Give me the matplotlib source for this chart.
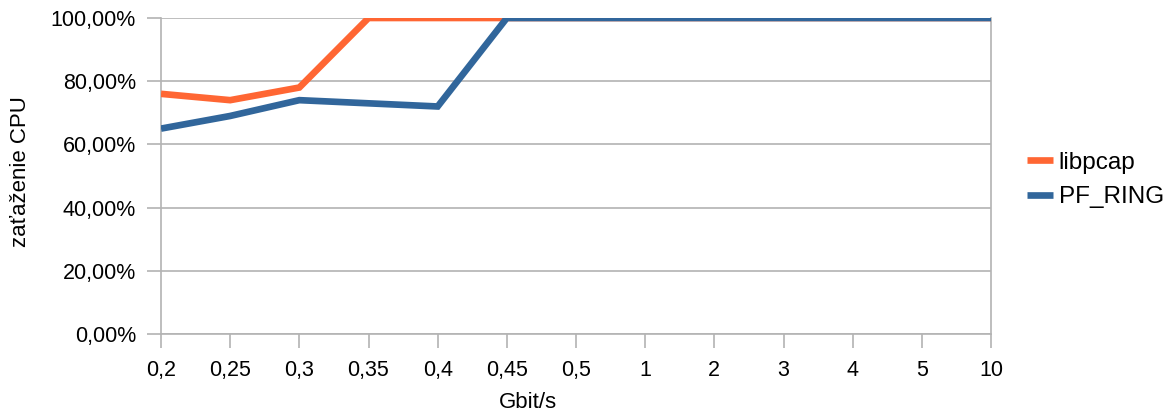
import matplotlib.pyplot as plt
from matplotlib.ticker import FuncFormatter

plt.rcParams['font.family'] = ['Liberation Sans', 'DejaVu Sans']

categories = ["0,2", "0,25", "0,3", "0,35", "0,4", "0,45", "0,5", "1", "2", "3", "4", "5", "10"]
libpcap = [76, 74, 78, 100, 100, 100, 100, 100, 100, 100, 100, 100, 100]
pf_ring = [65, 69, 74, 73, 72, 100, 100, 100, 100, 100, 100, 100, 100]

fig = plt.figure(figsize=(11.73, 4.16), dpi=100)
ax = fig.add_axes([161 / 1173, 1 - 334 / 416, 830 / 1173, 316 / 416])

x = list(range(len(categories)))
ax.plot(x, libpcap, color="#ff6633", linewidth=4.8, label="libpcap",
        solid_capstyle="butt", solid_joinstyle="miter", zorder=3)
ax.plot(x, pf_ring, color="#31669b", linewidth=4.8, label="PF_RING",
        solid_capstyle="butt", solid_joinstyle="miter", zorder=4)

ax.set_xlim(0, len(categories) - 1)
ax.set_ylim(0, 100)
ax.set_xticks(x)
ax.set_xticklabels(categories)
ax.set_yticks(range(0, 101, 20))
ax.yaxis.set_major_formatter(FuncFormatter(lambda v, p: f"{v:.2f}".replace(".", ",") + "%"))

ax.yaxis.grid(True, color="#b3b3b3", linewidth=1.2)
ax.set_axisbelow(True)
ax.spines["top"].set_visible(False)
for side in ["left", "bottom", "right"]:
    ax.spines[side].set_color("#b3b3b3")
    ax.spines[side].set_linewidth(1.2)

ax.tick_params(axis="both", which="major", labelsize=15.5, color="#b3b3b3",
               length=10, width=1.2, direction="out")
ax.tick_params(axis="x", pad=9)
ax.tick_params(axis="y", pad=8)

fig.text(21 / 1173, 1 - 172 / 416, "zaťaženie CPU", rotation=90,
         ha="center", va="center", fontsize=16)
fig.text(528 / 1173, 1 - 403 / 416, "Gbit/s", ha="center", va="center", fontsize=16)

fig.legend(loc="center left", bbox_to_anchor=(1017 / 1173, 1 - 180 / 416),
           frameon=False, fontsize=17.5, handlelength=1.07, handletextpad=0.25,
           labelspacing=0.5, borderaxespad=0)

fig.savefig("out.png", dpi=100)
